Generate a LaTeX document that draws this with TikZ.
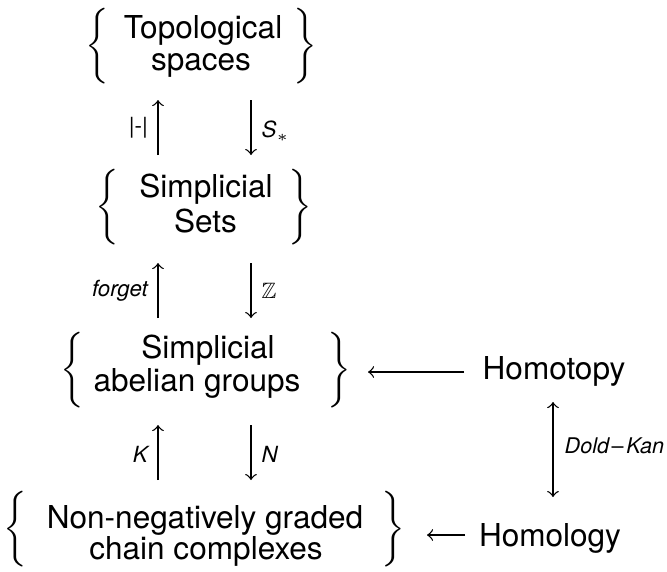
\RequirePackage{fix-cm}
\documentclass[tikz,border=0pt]{standalone}
\usepackage{amssymb}
\usepackage{graphicx}
\usepackage{fontspec}
\setmainfont{TeX Gyre Heros}
\newcommand\myLbr{\scalebox{0.95}{$\bigg\{$}}
\newcommand\myRbr{\scalebox{0.95}{$\bigg\}$}}
\begin{document}
\begin{tikzpicture}[x=0.3bp,y=-0.3bp,
  obj/.style={inner sep=0pt, anchor=base, font=\fontsize{9.5}{9.5}\selectfont},
  lbl/.style={inner sep=0pt, font=\fontsize{6.7}{6.7}\selectfont\itshape},
  brc/.style={inner sep=0pt},
  arr/.style={->, line width=0.4pt},
  darr/.style={<->, line width=0.4pt}]
\useasboundingbox (0,0) rectangle (667,571);

% objects of the left column
\node[obj] (topA) at (203,38) {Topological};
\node[obj] (topB) at (201,70) {spaces};
\node[brc] (topL) at (97.5,46.5) {\myLbr};
\node[brc] (topR) at (305.5,46.5) {\myRbr};

\node[obj] (setA) at (206,197) {Simplicial};
\node[obj] (setB) at (205.5,232) {Sets};
\node[brc] (setL) at (107,207) {\myLbr};
\node[brc] (setR) at (300,207) {\myRbr};

\node[obj] (abA) at (208,358) {Simplicial};
\node[obj] (abB) at (197,391) {abelian groups};
\node[brc] (abL) at (72.5,370) {\myLbr};
\node[brc] (abR) at (339.5,370) {\myRbr};

\node[obj] (chA) at (205,528) {Non-negatively graded};
\node[obj] (chB) at (206,559) {chain complexes};
\node[brc] (chL) at (15.5,529) {\myLbr};
\node[brc] (chR) at (393.5,529) {\myRbr};

% objects of the right column
\node[obj] (htpy) at (554,379) {Homotopy};
\node[obj] (hmlg) at (550,546) {Homology};

% arrow end points
\coordinate (u1a) at (158,155); \coordinate (u1b) at (158,100);
\coordinate (d1a) at (251,100); \coordinate (d1b) at (251,155);
\coordinate (u2a) at (158,318); \coordinate (u2b) at (158,263);
\coordinate (d2a) at (251,263); \coordinate (d2b) at (251,318);
\coordinate (u3a) at (158,480); \coordinate (u3b) at (158,425);
\coordinate (d3a) at (251,425); \coordinate (d3b) at (251,480);
\coordinate (hta) at (464,372); \coordinate (htb) at (368,372);
\coordinate (hla) at (465,535); \coordinate (hlb) at (427,535);
\coordinate (dka) at (553,402); \coordinate (dkb) at (553,497);

\draw[arr] (u1a) -- (u1b);
\draw[arr] (d1a) -- (d1b);
\draw[arr] (u2a) -- (u2b);
\draw[arr] (d2a) -- (d2b);
\draw[arr] (u3a) -- (u3b);
\draw[arr] (d3a) -- (d3b);
\draw[arr] (hta) -- (htb);
\draw[arr] (hla) -- (hlb);
\draw[darr] (dka) -- (dkb);

% arrow labels
\node[lbl, anchor=east] (lgeo) at (148.5,128) {\upshape |-|};
\node[lbl, anchor=west] (lsing) at (261,131) {S$_*$};
\node[lbl, anchor=east] (lfor) at (148.5,290.5) {forget};
\node[lbl, anchor=west] (lz) at (261,291) {\upshape$\mathbb{Z}$};
\node[lbl, anchor=east] (lk) at (148.5,454.5) {K};
\node[lbl, anchor=west] (ln) at (261,454.5) {N};
\node[lbl, anchor=west, font=\fontsize{6.5}{6.5}\selectfont\itshape] (ldk) at (564,446) {Dold\kern0.8pt\upshape–\kern0.8pt\itshape Kan};
\end{tikzpicture}
\end{document}
